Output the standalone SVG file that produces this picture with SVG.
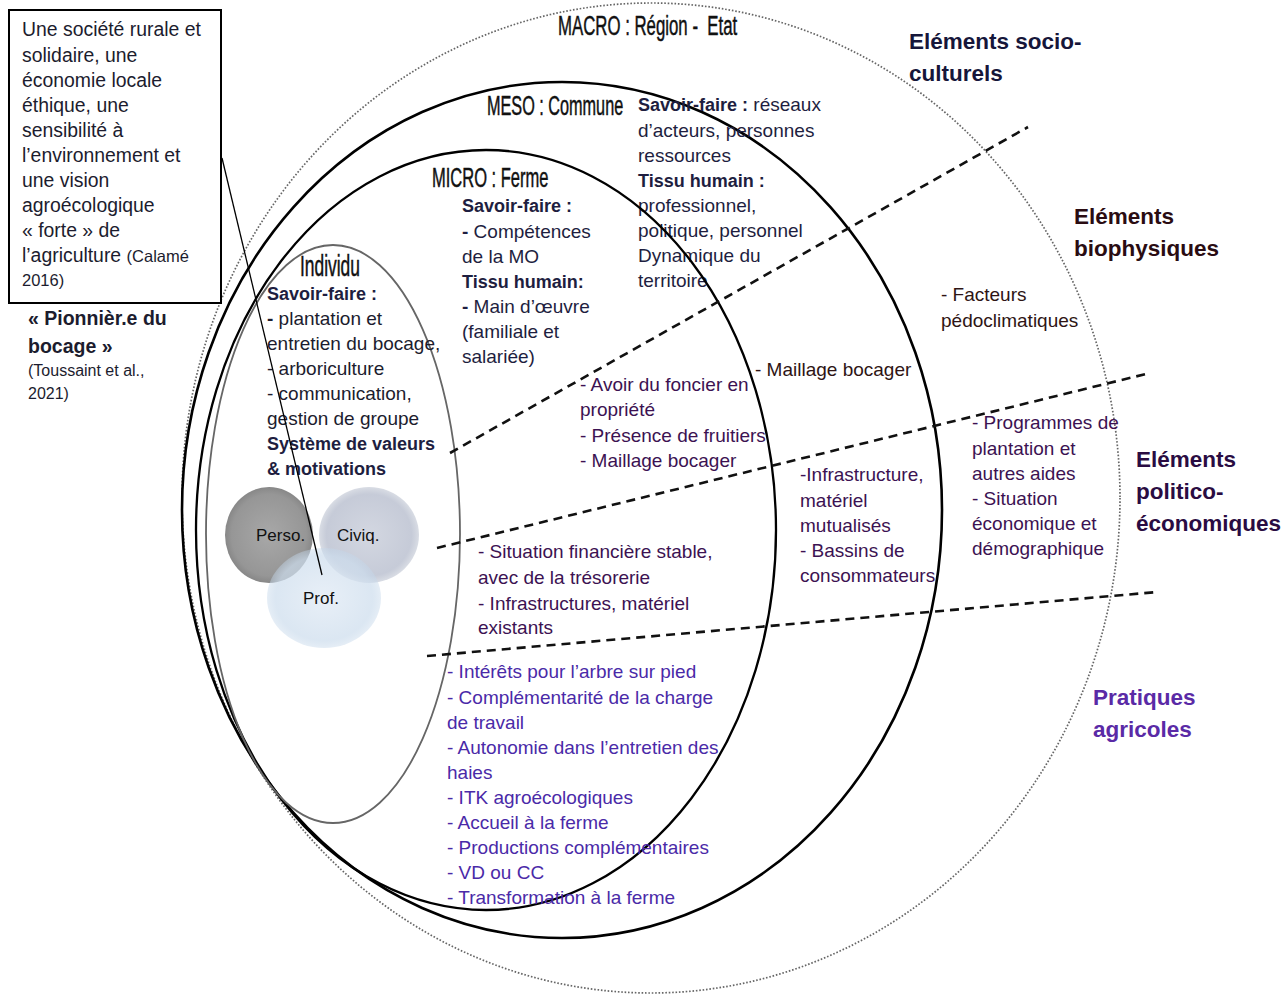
<svg xmlns="http://www.w3.org/2000/svg" width="1282" height="996" viewBox="0 0 1282 996">
<style>
text{font-family:"Liberation Sans",Arial,sans-serif;font-size:19px;fill:#1c1c2e}
.b{font-weight:bold;font-size:18px}
.big{font-weight:bold;font-size:22.5px}
.ttl{font-size:28px;fill:#111;stroke:#111;stroke-width:0.5}
.sm{font-size:16px}
.nav{fill:#1e1e40}
.pur{fill:#3c1252}
.brn{fill:#2e1414}
.vio{fill:#4a2aa8}
.dash{fill:none;stroke:#111;stroke-width:2.6;stroke-dasharray:9 6}
</style>
<defs>
<radialGradient id="gPerso" cx="50%" cy="50%" r="50%">
<stop offset="0" stop-color="#9c9c9c"/><stop offset="0.85" stop-color="#888"/><stop offset="1" stop-color="#777"/>
</radialGradient>
<radialGradient id="gCiviq" cx="50%" cy="50%" r="50%">
<stop offset="0" stop-color="#d3d7e1"/><stop offset="0.85" stop-color="#c6cbd8"/><stop offset="1" stop-color="#c0c6d3" stop-opacity="0.6"/>
</radialGradient>
<radialGradient id="gProf" cx="50%" cy="50%" r="50%">
<stop offset="0" stop-color="#dfe9f4"/><stop offset="0.85" stop-color="#cddded"/><stop offset="1" stop-color="#c4d7ea" stop-opacity="0.6"/>
</radialGradient>
</defs>
<rect width="1282" height="996" fill="#fff"/>

<g id="macro">
<ellipse cx="651" cy="498" rx="469" ry="495" fill="none" stroke="#666" stroke-width="1.7" stroke-dasharray="1.6 1.8"/>
<text class="ttl" transform="translate(558,35) scale(0.6,1)" xml:space="preserve">MACRO : Région -  Etat</text>
</g>

<g id="meso">
<ellipse cx="562" cy="510" rx="380" ry="428" fill="none" stroke="#000" stroke-width="2.6"/>
<text class="ttl" transform="translate(487,115) scale(0.58,1)">MESO : Commune</text>
<text x="638" y="111"><tspan class="b nav">Savoir-faire :</tspan><tspan class="nav"> réseaux</tspan></text>
<text x="638" y="137" class="nav">d’acteurs, personnes</text>
<text x="638" y="162" class="nav">ressources</text>
<text x="638" y="187" class="b nav">Tissu humain :</text>
<text x="638" y="212" class="nav">professionnel,</text>
<text x="638" y="237" class="nav">politique, personnel</text>
<text x="638" y="262" class="nav">Dynamique du</text>
<text x="638" y="287" class="nav">territoire</text>
</g>

<g id="micro">
<ellipse cx="486" cy="530" rx="290" ry="380" fill="none" stroke="#000" stroke-width="2.3"/>
<text class="ttl" transform="translate(432,187) scale(0.59,1)">MICRO : Ferme</text>
<text x="462" y="212" class="b nav">Savoir-faire :</text>
<text x="462" y="238" class="nav"><tspan font-weight="bold">-</tspan> Compétences</text>
<text x="462" y="263" class="nav">de la MO</text>
<text x="462" y="288" class="b nav">Tissu humain:</text>
<text x="462" y="313" class="nav"><tspan font-weight="bold">-</tspan> Main d’œuvre</text>
<text x="462" y="338" class="nav">(familiale et</text>
<text x="462" y="363" class="nav">salariée)</text>
</g>

<g id="individu">
<ellipse cx="333" cy="534" rx="127" ry="289" fill="none" stroke="#666" stroke-width="1.8"/>
<text class="ttl" transform="translate(300,276) scale(0.6,1)" style="font-size:29px">Individu</text>
<text x="267" y="300" class="b nav">Savoir-faire :</text>
<text x="267" y="325"><tspan font-weight="bold">-</tspan> plantation et</text>
<text x="267" y="350">entretien du bocage,</text>
<text x="267" y="375">- arboriculture</text>
<text x="267" y="400">- communication,</text>
<text x="267" y="425">gestion de groupe</text>
<text x="267" y="450" class="b nav">Système de valeurs</text>
<text x="267" y="475" class="b nav">&amp; motivations</text>
</g>

<g id="venn">
<ellipse cx="369" cy="535" rx="50" ry="48" fill="url(#gCiviq)"/>
<ellipse cx="269" cy="535" rx="44" ry="48" fill="url(#gPerso)" opacity="0.88"/>
<ellipse cx="324" cy="598" rx="57" ry="50" fill="url(#gProf)" opacity="0.72"/>
<text x="256" y="541" style="font-size:17px;fill:#111">Perso.</text>
<text x="337" y="541" style="font-size:17px;fill:#111">Civiq.</text>
<text x="303" y="604" style="font-size:17px;fill:#111">Prof.</text>
</g>

<g id="box">
<rect x="9" y="10" width="212" height="293" fill="#fff" stroke="#000" stroke-width="2"/>
<text x="22" y="36" style="font-size:19.4px">Une société rurale et</text>
<text x="22" y="62" style="font-size:19.4px">solidaire, une</text>
<text x="22" y="87" style="font-size:19.4px">économie locale</text>
<text x="22" y="112" style="font-size:19.4px">éthique, une</text>
<text x="22" y="137" style="font-size:19.4px">sensibilité à</text>
<text x="22" y="162" style="font-size:19.4px">l’environnement et</text>
<text x="22" y="187" style="font-size:19.4px">une vision</text>
<text x="22" y="212" style="font-size:19.4px">agroécologique</text>
<text x="22" y="237" style="font-size:19.4px">« forte » de</text>
<text x="22" y="262" style="font-size:19.4px">l’agriculture <tspan style="font-size:16.5px">(Calamé</tspan></text>
<text x="22" y="286" style="font-size:16.5px">2016)</text>
</g>

<g id="pionnier">
<text x="28" y="325" class="b" style="font-size:19.5px">« Pionnièr.e du</text>
<text x="28" y="353" class="b" style="font-size:19.5px">bocage »</text>
<text x="28" y="376" class="sm">(Toussaint et al.,</text>
<text x="28" y="399" class="sm">2021)</text>
</g>

<g id="socio">
<text x="909" y="49" class="big" style="fill:#16163a">Eléments socio-</text>
<text x="909" y="81" class="big" style="fill:#16163a">culturels</text>
</g>

<g id="biophys">
<text x="1074" y="224" class="big" style="fill:#2a0c12">Eléments</text>
<text x="1074" y="256" class="big" style="fill:#2a0c12">biophysiques</text>
<text x="941" y="301" class="brn">- Facteurs</text>
<text x="941" y="327" class="brn">pédoclimatiques</text>
<text x="755" y="376" class="brn">- Maillage bocager</text>
<text x="580" y="391" class="pur">- Avoir du foncier en</text>
<text x="580" y="416" class="pur">propriété</text>
<text x="580" y="442" class="pur">- Présence de fruitiers</text>
<text x="580" y="467" class="pur">- Maillage bocager</text>
</g>

<g id="politico">
<text x="1136" y="467" class="big" style="fill:#2a0c42">Eléments</text>
<text x="1136" y="499" class="big" style="fill:#2a0c42">politico-</text>
<text x="1136" y="531" class="big" style="fill:#2a0c42">économiques</text>
<text x="972" y="429" class="pur">- Programmes de</text>
<text x="972" y="455" class="pur">plantation et</text>
<text x="972" y="480" class="pur">autres aides</text>
<text x="972" y="505" class="pur">- Situation</text>
<text x="972" y="530" class="pur">économique et</text>
<text x="972" y="555" class="pur">démographique</text>
<text x="800" y="481" class="pur">-Infrastructure,</text>
<text x="800" y="507" class="pur">matériel</text>
<text x="800" y="532" class="pur">mutualisés</text>
<text x="800" y="557" class="pur">- Bassins de</text>
<text x="800" y="582" class="pur">consommateurs</text>
<text x="478" y="558" class="pur">- Situation financière stable,</text>
<text x="478" y="584" class="pur">avec de la trésorerie</text>
<text x="478" y="610" class="pur">- Infrastructures, matériel</text>
<text x="478" y="634" class="pur">existants</text>
</g>

<g id="pratiques">
<text x="1093" y="705" class="big" style="fill:#5a2aa6">Pratiques</text>
<text x="1093" y="737" class="big" style="fill:#5a2aa6">agricoles</text>
<text x="447" y="678" class="vio">- Intérêts pour l’arbre sur pied</text>
<text x="447" y="704" class="vio">- Complémentarité de la charge</text>
<text x="447" y="729" class="vio">de travail</text>
<text x="447" y="754" class="vio">- Autonomie dans l’entretien des</text>
<text x="447" y="779" class="vio">haies</text>
<text x="447" y="804" class="vio">- ITK agroécologiques</text>
<text x="447" y="829" class="vio">- Accueil à la ferme</text>
<text x="447" y="854" class="vio">- Productions complémentaires</text>
<text x="447" y="879" class="vio">- VD ou CC</text>
<text x="447" y="904" class="vio">- Transformation à la ferme</text>
</g>

<g id="connectors">
<line class="dash" x1="450" y1="453" x2="1028" y2="127"/>
<line class="dash" x1="437" y1="548" x2="1150" y2="373"/>
<line class="dash" x1="427" y1="656" x2="1157" y2="592"/>
<line x1="222" y1="158" x2="322" y2="575" stroke="#000" stroke-width="1.3"/>
</g>
</svg>
